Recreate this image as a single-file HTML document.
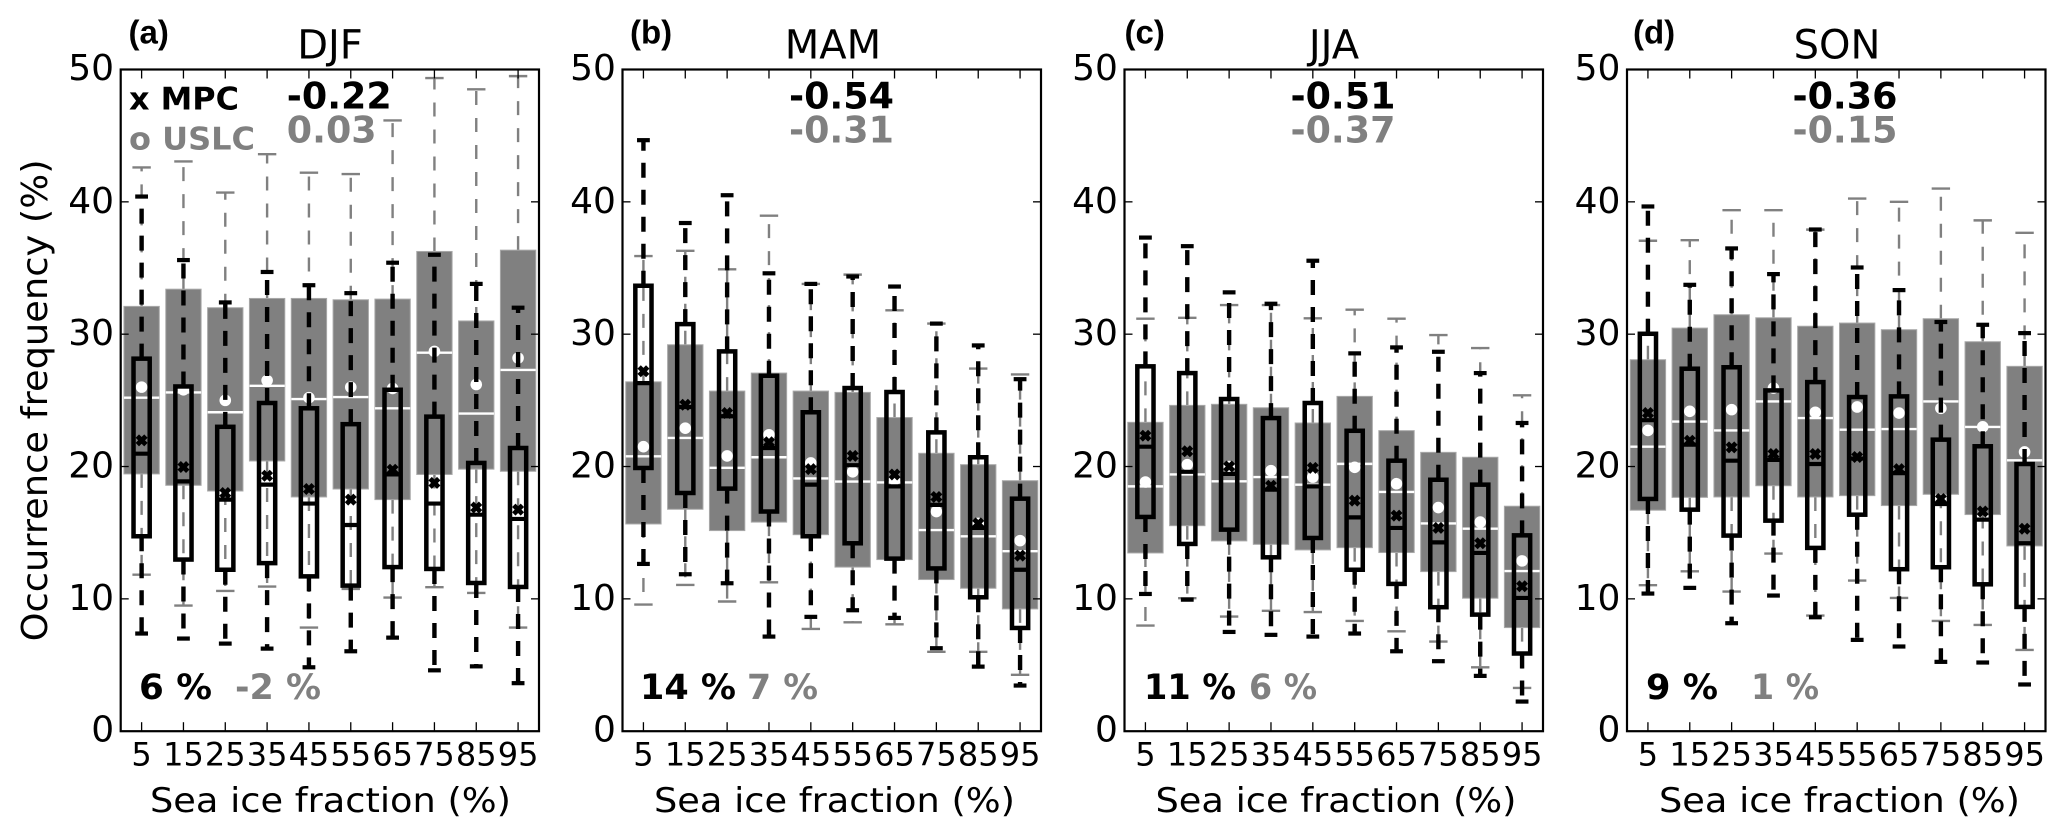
<!DOCTYPE html>
<html lang="en">
<head>
<meta charset="utf-8">
<title>Occurrence frequency versus sea ice fraction</title>
<style>
html,body{margin:0;padding:0;background:#fff;}
svg{display:block;}
text{font-family:"DejaVu Sans","Liberation Sans",sans-serif;fill:#000;}
.t{font-size:40px;text-anchor:middle;}
.xl{font-size:33.4px;text-anchor:middle;}
.p{font-family:"Liberation Sans",sans-serif;font-weight:bold;font-size:33px;}
.n{font-weight:bold;font-size:36.4px;}
.q{font-weight:bold;font-size:35px;}
.g{fill:#808080;}
</style>
</head>
<body>
<svg id="chart" width="2067" height="837" viewBox="0 0 2067 837" xmlns="http://www.w3.org/2000/svg">
<rect x="0" y="0" width="2067" height="837" fill="#fff"/>
<g id="marks"></g>
<text transform="translate(47,400.4) rotate(-90)" font-size="36" text-anchor="middle" textLength="482" lengthAdjust="spacingAndGlyphs">Occurrence frequency (%)</text>

<text class="p" x="128.5" y="43.5">(a)</text>
<text class="t" x="330" y="58.5">DJF</text>
<text class="xl" x="330.5" y="812" textLength="361" lengthAdjust="spacingAndGlyphs">Sea ice fraction (%)</text>
<text font-weight="bold" font-size="31" x="129" y="109.3" textLength="110" lengthAdjust="spacingAndGlyphs">x MPC</text>
<text class="g" font-weight="bold" font-size="31" x="129" y="149.3" textLength="126" lengthAdjust="spacingAndGlyphs">o USLC</text>
<text class="n" x="286.8" y="108.7">-0.22</text>
<text class="n g" x="286.8" y="142.3">0.03</text>
<text class="q" x="139" y="699" textLength="73" lengthAdjust="spacingAndGlyphs">6 %</text>
<text class="q g" x="235" y="699" textLength="86" lengthAdjust="spacingAndGlyphs">-2 %</text>

<text class="p" x="630" y="43.5">(b)</text>
<text class="t" x="833" y="58.5">MAM</text>
<text class="xl" x="834.5" y="812" textLength="361" lengthAdjust="spacingAndGlyphs">Sea ice fraction (%)</text>
<text class="n" x="789" y="108.7">-0.54</text>
<text class="n g" x="789" y="142.3">-0.31</text>
<text class="q" x="640" y="699" textLength="96" lengthAdjust="spacingAndGlyphs">14 %</text>
<text class="q g" x="747" y="699" textLength="71" lengthAdjust="spacingAndGlyphs">7 %</text>

<text class="p" x="1124.5" y="43.5">(c)</text>
<text class="t" x="1334" y="58.5">JJA</text>
<text class="xl" x="1336" y="812" textLength="361" lengthAdjust="spacingAndGlyphs">Sea ice fraction (%)</text>
<text class="n" x="1290.5" y="108.7">-0.51</text>
<text class="n g" x="1290.5" y="142.3">-0.37</text>
<text class="q" x="1144" y="699" textLength="92" lengthAdjust="spacingAndGlyphs">11 %</text>
<text class="q g" x="1249" y="699" textLength="68" lengthAdjust="spacingAndGlyphs">6 %</text>

<text class="p" x="1633" y="43.5">(d)</text>
<text class="t" x="1837" y="58.5">SON</text>
<text class="xl" x="1839.5" y="812" textLength="361" lengthAdjust="spacingAndGlyphs">Sea ice fraction (%)</text>
<text class="n" x="1792.5" y="108.7">-0.36</text>
<text class="n g" x="1792.5" y="142.3">-0.15</text>
<text class="q" x="1646" y="699" textLength="72" lengthAdjust="spacingAndGlyphs">9 %</text>
<text class="q g" x="1751" y="699" textLength="68" lengthAdjust="spacingAndGlyphs">1 %</text>
</svg>
<script>
const categories = ['5','15','25','35','45','55','65','75','85','95'];
const yTickValues = [0,10,20,30,40,50];

const djfUslcHigh = [42.6,43.05,40.7,43.6,42.2,42.1,46.15,49.35,48.5,49.5];
const djfUslcQ3 = [32.1,33.4,32.0,32.7,32.7,32.6,32.65,36.25,31.0,36.35];
const djfUslcMedian = [25.2,25.6,24.1,26.1,25.1,25.25,24.4,28.6,24.0,27.3];
const djfUslcMean = [26.0,25.8,25.0,26.5,25.2,26.0,25.9,28.7,26.2,28.2];
const djfUslcQ1 = [19.44,18.58,18.15,20.42,17.7,18.3,17.5,19.4,19.8,19.64];
const djfUslcLow = [11.83,9.49,10.6,10.93,7.83,10.75,10.1,10.88,10.45,7.83];
const djfMpcHigh = [40.4,35.6,32.4,34.7,33.7,33.1,35.4,36.0,33.8,32.0];
const djfMpcQ3 = [28.15,26.05,23.0,24.8,24.4,23.2,25.8,23.77,20.27,21.4];
const djfMpcMedian = [20.97,18.88,17.5,18.63,17.2,15.58,19.4,17.2,16.36,16.04];
const djfMpcMean = [21.98,19.96,18.0,19.3,18.3,17.5,19.76,18.76,16.9,16.74];
const djfMpcQ1 = [14.73,12.97,12.2,12.7,11.7,11.0,12.4,12.26,11.2,10.9];
const djfMpcLow = [7.38,7.0,6.62,6.24,4.83,6.04,7.07,4.6,4.9,3.63];

const mamUslcHigh = [35.9,36.3,34.9,38.95,33.8,34.5,31.8,30.8,27.4,26.96];
const mamUslcQ3 = [26.4,29.2,25.7,27.06,25.7,25.6,23.7,21.0,20.14,18.93];
const mamUslcMedian = [20.77,22.16,19.9,20.7,19.1,18.86,18.8,15.2,14.73,13.6];
const mamUslcMean = [21.5,22.9,20.8,22.4,20.27,19.6,19.0,16.6,15.7,14.4];
const mamUslcQ1 = [15.66,16.77,15.16,15.8,14.85,12.4,12.97,11.46,10.8,9.24];
const mamUslcLow = [9.57,11.05,9.8,11.25,7.73,8.23,8.08,6.0,6.0,4.26];
const mamMpcHigh = [44.66,38.4,40.5,34.6,33.8,34.36,33.6,30.8,29.15,26.6];
const mamMpcQ3 = [33.66,30.76,28.7,26.86,24.1,25.93,25.63,22.58,20.7,17.57];
const mamMpcMedian = [26.3,24.5,23.8,21.4,18.63,20.1,18.5,17.1,15.36,12.2];
const mamMpcMean = [27.2,24.67,24.04,21.83,19.8,20.8,19.4,17.7,15.7,13.27];
const mamMpcQ1 = [19.89,18.0,18.33,16.6,14.73,14.2,13.04,12.3,10.12,7.8];
const mamMpcLow = [12.64,11.86,11.18,7.15,8.64,9.14,8.56,6.27,4.88,3.45];

const jjaUslcHigh = [31.17,31.24,32.2,32.2,31.2,31.85,31.17,29.93,28.95,25.38];
const jjaUslcQ3 = [23.34,24.62,24.7,24.44,23.29,25.3,22.71,21.07,20.7,17.0];
const jjaUslcMedian = [18.5,19.4,18.88,19.2,18.63,20.2,18.08,15.7,15.3,12.1];
const jjaUslcMean = [18.83,20.14,20.0,19.69,19.2,19.94,18.7,16.9,15.8,12.87];
const jjaUslcQ1 = [13.47,15.53,14.38,14.12,13.7,13.87,13.5,12.06,10.05,7.83];
const jjaUslcLow = [7.98,10.05,8.66,9.1,9.0,8.33,7.55,6.77,4.83,3.27];
const jjaMpcHigh = [37.3,36.65,33.16,32.3,35.55,28.55,29.0,28.67,27.06,23.29];
const jjaMpcQ3 = [27.57,27.06,25.1,23.66,24.8,22.7,20.44,19.0,18.63,14.8];
const jjaMpcMedian = [21.5,19.6,19.44,18.25,18.5,16.16,15.36,14.27,13.47,10.07];
const jjaMpcMean = [22.33,21.15,20.0,18.55,19.9,17.42,16.29,15.36,14.2,10.95];
const jjaMpcQ1 = [16.19,14.15,15.23,13.14,14.6,12.2,11.13,9.37,8.81,5.87];
const jjaMpcLow = [10.37,9.94,7.5,7.28,7.15,7.38,6.04,5.29,4.18,2.24];

const sonUslcHigh = [37.06,37.1,39.37,39.37,37.9,40.25,40.0,41.0,38.6,37.66];
const sonUslcQ3 = [28.07,30.46,31.47,31.24,30.6,30.84,30.34,31.17,29.43,27.57];
const sonUslcMedian = [21.5,23.4,22.73,24.92,23.66,22.78,22.83,24.92,22.99,20.47];
const sonUslcMean = [22.73,24.17,24.3,25.93,24.1,24.5,24.04,24.4,23.0,21.1];
const sonUslcQ1 = [16.7,17.67,17.7,18.55,17.7,17.8,17.05,17.9,16.37,14.0];
const sonUslcLow = [11.03,12.08,10.55,13.42,8.74,11.38,10.07,8.33,8.03,6.14];
const sonMpcHigh = [39.65,33.73,36.48,34.54,37.91,35.04,33.33,30.92,30.71,30.08];
const sonMpcQ3 = [30.03,27.39,27.5,25.75,26.38,25.25,25.3,22.03,21.53,20.19];
const sonMpcMedian = [23.5,21.65,20.44,20.5,20.19,20.6,19.5,17.17,15.99,14.2];
const sonMpcMean = [24.04,21.95,21.45,20.95,20.95,20.72,19.8,17.55,16.6,15.3];
const sonMpcQ1 = [17.55,16.74,14.78,15.91,13.85,16.36,12.24,12.39,11.1,9.39];
const sonMpcLow = [10.4,10.83,8.16,10.25,8.61,6.9,6.4,5.24,5.19,3.53];

const panels = [
  {key:'djf', left:120.7, right:539, uslc:[djfUslcHigh,djfUslcQ3,djfUslcMedian,djfUslcMean,djfUslcQ1,djfUslcLow], mpc:[djfMpcHigh,djfMpcQ3,djfMpcMedian,djfMpcMean,djfMpcQ1,djfMpcLow]},
  {key:'mam', left:622.5, right:1041, uslc:[mamUslcHigh,mamUslcQ3,mamUslcMedian,mamUslcMean,mamUslcQ1,mamUslcLow], mpc:[mamMpcHigh,mamMpcQ3,mamMpcMedian,mamMpcMean,mamMpcQ1,mamMpcLow]},
  {key:'jja', left:1124.5, right:1543, uslc:[jjaUslcHigh,jjaUslcQ3,jjaUslcMedian,jjaUslcMean,jjaUslcQ1,jjaUslcLow], mpc:[jjaMpcHigh,jjaMpcQ3,jjaMpcMedian,jjaMpcMean,jjaMpcQ1,jjaMpcLow]},
  {key:'son', left:1627, right:2045.5, uslc:[sonUslcHigh,sonUslcQ3,sonUslcMedian,sonUslcMean,sonUslcQ1,sonUslcLow], mpc:[sonMpcHigh,sonMpcQ3,sonMpcMedian,sonMpcMean,sonMpcQ1,sonMpcLow]}
];

const NS = 'http://www.w3.org/2000/svg';
const root = document.getElementById('marks');
const plotTop = 69.5, plotBottom = 731.2;
function yScale(v){ return plotBottom - v * (plotBottom - plotTop) / 50; }
function xScale(i,p){ return p.left + (i + 0.5) * (p.right - p.left) / 10; }
function line(x1,y1,x2,y2,color,width,name,dash){
  const el = document.createElementNS(NS,'line');
  
  
  el.setAttribute('x1',x1); el.setAttribute('y1',y1);
  el.setAttribute('x2',x2); el.setAttribute('y2',y2);
  el.setAttribute('stroke',color); el.setAttribute('stroke-width',width);
  if(dash) el.setAttribute('stroke-dasharray',dash);
  root.appendChild(el);
}
function label(x,y,text,anchor,size,name){
  const el = document.createElementNS(NS,'text');
  
  
  el.setAttribute('x',x); el.setAttribute('y',y);
  el.setAttribute('text-anchor',anchor);
  el.setAttribute('font-size',size);
  el.textContent = text;
  root.appendChild(el);
}
panels.forEach(function(p){
  const step = (p.right - p.left) / 10;
  const [gHigh,gQ3,gMed,gMean,gQ1,gLow] = p.uslc;
  const [bHigh,bQ3,bMed,bMean,bQ1,bLow] = p.mpc;
  categories.forEach(function(cat,i){
    const x = xScale(i,p);
    // USLC whiskers
    line(x,yScale(gQ3[i]),x,yScale(gHigh[i]),'#808080',2.4,'uslc-whisker-high-'+p.key+'-'+cat,'14 13');
    line(x,yScale(gQ1[i]),x,yScale(gLow[i]),'#808080',2.4,'uslc-whisker-low-'+p.key+'-'+cat,'14 13');
    line(x-9.2,yScale(gHigh[i]),x+9.2,yScale(gHigh[i]),'#808080',2.4,'uslc-cap-high-'+p.key+'-'+cat);
    line(x-9.2,yScale(gLow[i]),x+9.2,yScale(gLow[i]),'#808080',2.4,'uslc-cap-low-'+p.key+'-'+cat);
    // USLC box
    const bw = step * 0.845;
    const bar = document.createElementNS(NS,'rect');
    
    
    bar.setAttribute('x',x-bw/2);
    bar.setAttribute('y',yScale(gQ3[i]));
    bar.setAttribute('width',bw);
    bar.setAttribute('height',yScale(gQ1[i])-yScale(gQ3[i]));
    bar.setAttribute('fill','#808080');
    bar.setAttribute('stroke','#a8a8a8');
    bar.setAttribute('stroke-width','1');
    root.appendChild(bar);
    line(x-bw/2,yScale(gMed[i]),x+bw/2,yScale(gMed[i]),'#fff',2.4,'uslc-median-'+p.key+'-'+cat);
    const dot = document.createElementNS(NS,'circle');
    
    
    dot.setAttribute('cx',x);
    dot.setAttribute('cy',yScale(gMean[i]));
    dot.setAttribute('r','5.8');
    dot.setAttribute('fill','#fff');
    root.appendChild(dot);
  });
  categories.forEach(function(cat,i){
    const x = xScale(i,p);
    // MPC box and whiskers
    line(x,yScale(bQ3[i]),x,yScale(bHigh[i]),'#000',4.4,'mpc-whisker-high-'+p.key+'-'+cat,'15 12');
    line(x,yScale(bQ1[i]),x,yScale(bLow[i]),'#000',4.4,'mpc-whisker-low-'+p.key+'-'+cat,'15 12');
    line(x-6.4,yScale(bHigh[i]),x+6.4,yScale(bHigh[i]),'#000',4.2,'mpc-cap-high-'+p.key+'-'+cat);
    line(x-6.4,yScale(bLow[i]),x+6.4,yScale(bLow[i]),'#000',4.2,'mpc-cap-low-'+p.key+'-'+cat);
    const w = step * 0.387;
    const box = document.createElementNS(NS,'rect');
    
    
    box.setAttribute('x',x-w/2);
    box.setAttribute('y',yScale(bQ3[i]));
    box.setAttribute('width',w);
    box.setAttribute('height',yScale(bQ1[i])-yScale(bQ3[i]));
    box.setAttribute('fill','none');
    box.setAttribute('stroke','#000');
    box.setAttribute('stroke-width','4.5');
    root.appendChild(box);
    line(x-w/2,yScale(bMed[i]),x+w/2,yScale(bMed[i]),'#000',4.2,'mpc-median-'+p.key+'-'+cat);
    const my = yScale(bMean[i]);
    line(x-4.3,my-4.3,x+4.3,my+4.3,'#000',4.8,'mpc-mean-a-'+p.key+'-'+cat);
    line(x-4.3,my+4.3,x+4.3,my-4.3,'#000',4.8,'mpc-mean-b-'+p.key+'-'+cat);
    // x ticks
    line(x,plotBottom,x,plotBottom-9,'#000',1.3,'x-tick-bottom-'+p.key+'-'+cat);
    line(x,plotTop,x,plotTop+9,'#000',1.3,'x-tick-top-'+p.key+'-'+cat);
    label(x,765.7,cat,'middle',32,'x-tick-label-'+p.key+'-'+cat);
  });
  yTickValues.forEach(function(v){
    const y = yScale(v);
    if(v>0 && v<50){
      line(p.left,y,p.left+8,y,'#000',1.3,'y-tick-left-'+p.key+'-'+v);
      line(p.right,y,p.right-8,y,'#000',1.3,'y-tick-right-'+p.key+'-'+v);
    }
    label(p.left-6.6,y+(v===50||v===0?10.5:11),String(v),'end',36,'y-tick-label-'+p.key+'-'+v);
  });
  const frame = document.createElementNS(NS,'rect');
  
  
  frame.setAttribute('x',p.left);
  frame.setAttribute('y',plotTop);
  frame.setAttribute('width',p.right-p.left);
  frame.setAttribute('height',plotBottom-plotTop);
  frame.setAttribute('fill','none');
  frame.setAttribute('stroke','#000');
  frame.setAttribute('stroke-width','2.2');
  root.appendChild(frame);
});
</script>
</body>
</html>
